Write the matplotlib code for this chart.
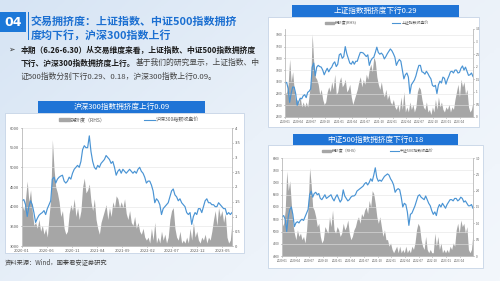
import numpy as np
import pandas as pd
import matplotlib
matplotlib.use("Agg")
import matplotlib.pyplot as plt
import matplotlib.dates as mdates
from matplotlib.patches import Rectangle, Patch
from matplotlib.lines import Line2D
from matplotlib.colors import LinearSegmentedColormap

plt.rcParams["font.family"] = ["Noto Sans CJK SC", "DejaVu Sans"]

# --------------------
# Data (3 readings per month, 2020-01 .. 2023-06)
# --------------------
hs300_close = [
    4150, 4180, 4050, 3750, 4000, 4150, 4050, 3850, 3600, 3700, 3780, 3820,
    3850, 3900, 3800, 3950, 4050, 4150, 4700, 4750, 4600, 4700, 4750, 4780,
    4800, 4650, 4600, 4650, 4750, 4700, 4850, 4950, 5000, 5050, 5000, 5150,
    5450, 5550, 5500, 5500, 5800, 5400, 5150, 5000, 4950, 5050, 5000, 5100,
    5150, 5200, 5300, 5250, 5200, 5100, 5150, 5000, 4800, 4900, 4950, 4850,
    4950, 4900, 4850, 4900, 4950, 4900, 4850, 4900, 4850, 4950, 5000, 4900,
    4850, 4750, 4600, 4650, 4650, 4550, 4400, 4100, 4200, 4150, 4050, 3800,
    3950, 4000, 4050, 4100, 4250, 4400, 4450, 4300, 4250, 4150, 4200, 4100,
    4050, 4000, 3850, 3800, 3850, 3550, 3750, 3850, 3800, 3950, 3950, 3850,
    4000, 4150, 4200, 4100, 4100, 4050, 4050, 4000, 4000, 4100, 4050, 4000,
    3950, 3950, 3800, 3850, 3800, 3850,
]
hs300_crowd = [
    1.4, 1.2, 1.6, 2.2, 1.5, 1.9, 1.2, 0.7, 0.8, 0.6, 0.9, 0.5,
    0.7, 0.4, 0.6, 0.3, 1.0, 1.6, 3.6, 2.6, 2.0, 1.8, 1.5, 1.0,
    1.2, 0.6, 0.4, 0.5, 1.1, 1.4, 1.2, 1.6, 1.0, 1.3, 0.9, 1.2,
    2.0, 2.3, 1.8, 1.9, 2.1, 1.5, 1.2, 1.6, 0.9, 0.6, 0.4, 0.8,
    1.0, 1.2, 1.4, 0.9, 1.3, 1.0, 1.5, 1.3, 1.7, 1.6, 1.3, 1.5,
    1.3, 1.6, 1.1, 0.9, 1.2, 0.8, 0.7, 1.0, 0.6, 0.8, 0.5, 0.4,
    0.6, 0.3, 0.2, 0.3, 0.1, 0.6, 0.2, 0.8, 0.1, 0.3, 0.1, 0.5,
    0.2, 0.4, 0.1, 0.3, 0.9, 1.2, 1.3, 0.6, 0.3, 0.2, 0.5, 0.1,
    0.2, 0.1, 0.3, 0.1, 0.6, 0.2, 0.8, 0.3, 0.5, 0.2, 0.1, 0.3,
    0.2, 0.4, 0.1, 0.3, 0.2, 0.5, 0.9, 1.2, 0.7, 1.3, 1.0, 1.2,
    0.8, 1.1, 0.3, 0.1, 0.2, 0.8,
]
sse_close = [
    3080, 3090, 2980, 2750, 2900, 3010, 3010, 2900, 2700, 2760, 2820, 2810,
    2860, 2880, 2830, 2920, 2940, 2980, 3350, 3420, 3200, 3350, 3380, 3360,
    3350, 3300, 3220, 3280, 3330, 3270, 3320, 3350, 3410, 3440, 3360, 3400,
    3560, 3580, 3500, 3530, 3700, 3580, 3500, 3420, 3400, 3450, 3400, 3450,
    3450, 3530, 3600, 3600, 3590, 3560, 3530, 3560, 3380, 3460, 3500, 3520,
    3600, 3690, 3600, 3570, 3590, 3560, 3490, 3530, 3580, 3620, 3660, 3630,
    3580, 3520, 3380, 3440, 3480, 3450, 3300, 3150, 3220, 3250, 3180, 2900,
    3050, 3090, 3130, 3200, 3300, 3380, 3380, 3270, 3260, 3230, 3280, 3240,
    3190, 3150, 3040, 3020, 3040, 2900, 3050, 3110, 3080, 3180, 3160, 3060,
    3140, 3200, 3270, 3280, 3250, 3300, 3300, 3250, 3260, 3330, 3370, 3300,
    3350, 3280, 3210, 3220, 3250, 3190,
]
sse_crowd = [
    0.9, 1.0, 1.3, 2.3, 1.4, 1.8, 1.1, 0.6, 0.7, 0.5, 0.8, 0.4,
    0.6, 0.4, 0.6, 0.4, 0.9, 1.4, 3.3, 2.2, 1.6, 1.5, 1.3, 0.9,
    1.1, 0.7, 0.5, 0.6, 1.0, 1.2, 1.0, 1.4, 1.1, 1.7, 0.9, 1.0,
    1.4, 1.6, 1.2, 1.3, 1.5, 1.0, 1.1, 1.3, 0.8, 0.5, 0.7, 0.9,
    1.1, 1.4, 1.6, 1.2, 1.5, 1.3, 1.7, 1.5, 1.9, 2.1, 1.8, 2.4,
    2.2, 1.6, 1.3, 1.1, 1.4, 1.0, 0.8, 1.1, 0.7, 0.9, 0.6, 0.5,
    0.7, 0.4, 0.3, 0.5, 0.2, 0.8, 0.3, 1.0, 0.2, 0.4, 0.2, 0.6,
    0.3, 0.5, 0.2, 0.4, 1.0, 1.2, 1.1, 0.7, 0.4, 0.3, 0.6, 0.2,
    0.3, 0.1, 0.4, 0.2, 0.7, 0.3, 0.8, 0.4, 0.6, 0.3, 0.2, 0.4,
    0.3, 0.5, 0.2, 0.4, 0.3, 0.7, 1.0, 1.3, 0.8, 1.5, 1.2, 1.4,
    0.9, 1.1, 0.4, 0.2, 0.3, 0.6,
]
zz500_close = [
    5600, 5650, 5500, 5000, 5600, 5900, 6000, 5700, 5200, 5350, 5400, 5350,
    5450, 5500, 5450, 5600, 5750, 5900, 6500, 6650, 6400, 6550, 6600, 6500,
    6550, 6350, 6300, 6400, 6500, 6350, 6400, 6450, 6500, 6350, 6250, 6400,
    6500, 6350, 6200, 6300, 6700, 6450, 6350, 6250, 6300, 6400, 6450, 6450,
    6500, 6650, 6700, 6750, 6800, 6850, 6950, 7000, 6900, 7000, 7150, 7050,
    7300, 7600, 7200, 7050, 7100, 7050, 7150, 7250, 7300, 7350, 7300, 7150,
    7050, 6900, 6600, 6700, 6750, 6700, 6400, 6000, 6150, 6100, 5800, 5250,
    5700, 5750, 5900, 6050, 6250, 6450, 6500, 6400, 6350, 6300, 6450, 6300,
    6150, 6050, 5850, 5700, 5800, 5650, 5950, 6100, 6000, 6150, 6050, 5950,
    6100, 6200, 6300, 6300, 6250, 6350, 6350, 6250, 6300, 6400, 6350, 6200,
    6250, 6150, 6050, 6050, 6100, 5950,
]
zz500_crowd = [
    0.9, 1.0, 1.4, 2.6, 2.0, 2.3, 1.6, 1.0, 0.7, 0.5, 0.8, 0.6,
    0.7, 0.5, 0.6, 0.4, 0.8, 1.5, 2.7, 2.2, 1.5, 1.4, 1.2, 0.9,
    1.0, 0.6, 0.4, 0.5, 0.9, 0.8, 0.7, 1.2, 0.9, 1.4, 0.8, 0.7,
    0.9, 0.8, 0.6, 0.7, 1.0, 0.8, 0.9, 1.1, 0.7, 0.5, 0.6, 0.8,
    0.9, 1.1, 1.2, 1.0, 1.3, 1.2, 1.4, 1.5, 1.3, 1.7, 1.5, 2.0,
    1.9, 1.6, 1.2, 1.0, 1.2, 0.9, 0.6, 0.8, 0.5, 0.5, 0.3, 0.4,
    0.2, 0.1, 0.2, 0.3, 0.1, 0.3, 0.1, 0.2, 0.1, 0.3, 0.1, 0.2,
    0.1, 0.3, 0.2, 0.4, 0.8, 1.0, 0.9, 0.5, 0.3, 0.2, 0.6, 0.2,
    0.1, 0.2, 0.1, 0.1, 0.7, 0.3, 0.6, 0.2, 0.4, 0.1, 0.2, 0.1,
    0.2, 0.1, 0.3, 0.2, 0.4, 0.3, 0.8, 1.0, 0.7, 1.1, 0.9, 1.0,
    0.7, 0.9, 0.2, 0.1, 0.2, 0.7,
]
dates = pd.date_range("2020-01-02", "2023-06-30", periods=len(hs300_close))

W, H = 500, 281
BAR_BLUE = "#1f74d6"
TITLE_BLUE = "#1b6fd1"
LINE_BLUE = "#4a94d4"
FILL_GRAY = "#a6a6a6"
TICK_COLOR = "#595959"


def rect(x0, y0, x1, y1):
    # pixel box (top-left origin) -> figure fraction
    return [x0 / W, 1 - y1 / H, (x1 - x0) / W, (y1 - y0) / H]


fig = plt.figure(figsize=(5, 2.81), dpi=100)

# background gradient
bg = fig.add_axes([0, 0, 1, 1], zorder=-5)
cmap = LinearSegmentedColormap.from_list("bg", ["#d6e4f4", "#eaf1f9", "#f3f7fc"])
gx, gy = np.meshgrid(np.linspace(0, 1, 200), np.linspace(0, 1, 120))
bg.imshow(0.6 * gx + 0.4 * gy, cmap=cmap, aspect="auto", extent=[0, 1, 0, 1])
bg.set_axis_off()


def add_box(x0, y0, x1, y1, color, ec="none", lw=0):
    r = rect(x0, y0, x1, y1)
    fig.add_artist(Rectangle((r[0], r[1]), r[2], r[3], transform=fig.transFigure,
                             facecolor=color, edgecolor=ec, linewidth=lw, zorder=-1))


def draw_chart(plot_px, panel_px, bar_px, title, close, crowd, ylim_l, yticks_l,
               ylim_r, yticks_r, ytl_r, xticks, fs, title_fs, leg_xy, leg_labels, leg_fs, leg_gap):
    add_box(*panel_px, "white", ec="#c6d4e6", lw=0.6)
    add_box(*bar_px, BAR_BLUE)
    fig.text((bar_px[0] + bar_px[2]) / 2 / W, 1 - (bar_px[1] + bar_px[3]) / 2 / H, title,
             color="white", fontsize=title_fs, ha="center", va="center")

    ax_r = fig.add_axes(rect(*plot_px), zorder=1)
    ax_l = ax_r.twinx()
    ax_l.set_zorder(2)
    ax_l.patch.set_visible(False)
    # twinx puts the shared ticks on the right, swap sides
    ax_l.yaxis.tick_left()
    ax_r.yaxis.tick_right()

    ax_r.fill_between(dates, crowd, 0, color=FILL_GRAY, lw=0)
    ax_l.plot(dates, close, color=LINE_BLUE, lw=0.85)

    ax_l.set_ylim(*ylim_l)
    ax_l.set_yticks(yticks_l)
    ax_r.set_ylim(*ylim_r)
    ax_r.set_yticks(yticks_r)
    ax_r.set_yticklabels(ytl_r)
    ax_r.set_xlim(pd.Timestamp("2020-01-01"), pd.Timestamp("2023-06-30"))
    ax_r.set_xticks(xticks)
    ax_r.xaxis.set_major_formatter(mdates.DateFormatter("%Y-%m"))
    ax_l.grid(axis="y", color="#e3e3e3", lw=0.4)

    for a in (ax_l, ax_r):
        a.tick_params(labelsize=fs, colors=TICK_COLOR, length=1, width=0.4, pad=1)
        for s in a.spines.values():
            s.set_color("#bfbfbf")
            s.set_linewidth(0.5)
        a.spines["top"].set_visible(False)

    handles = [Patch(color=FILL_GRAY), Line2D([], [], color=LINE_BLUE, lw=0.8)]
    fig.legend(handles, leg_labels, loc="center",
               bbox_to_anchor=(leg_xy[0] / W, 1 - leg_xy[1] / H), ncol=2, frameon=False,
               fontsize=leg_fs, columnspacing=leg_gap, handlelength=2.2, handleheight=0.5,
               handletextpad=0.3, labelcolor=TICK_COLOR)


# 上证指数
draw_chart((285, 29, 473, 117), (268, 17, 479, 127), (292, 5, 459, 17),
           "上证指数拥挤度下行0.29", sse_close, sse_crowd,
           (2500, 4000), list(range(2500, 4000, 200)),
           (0, 3.5), [0, 0.5, 1, 1.5, 2, 2.5, 3, 3.5], ["0", "0.5", "1", "1.5", "2", "2.5", "3", "3.5"],
           pd.date_range("2020-01-01", "2023-04-01", freq="QS"), 2.2, 5.5,
           (377, 23), ["拥挤度(RHS)", "上证指数收盘价"], 2.8, 9)

# 沪深300
draw_chart((22, 128, 232, 246), (5, 113, 244, 253), (38, 101, 205, 113),
           "沪深300指数拥挤度上行0.09", hs300_close, hs300_crowd,
           (3000, 6000), list(range(3000, 6001, 500)),
           (0, 4), [0, 0.5, 1, 1.5, 2, 2.5, 3, 3.5, 4], ["0", "0.5", "1", "1.5", "2", "2.5", "3", "3.5", "4"],
           pd.date_range("2020-01-01", periods=9, freq="5MS"), 3.0, 5.5,
           (129, 120), ["拥挤度（RHS）", "沪深300指数收盘价"], 3.6, 7.5)

# 中证500
draw_chart((282, 158, 473, 256), (268, 145, 483, 268), (293, 134, 458, 145),
           "中证500指数拥挤度下行0.18", zz500_close, zz500_crowd,
           (4000, 8000), list(range(4000, 8001, 500)),
           (0, 3), [0, 0.5, 1, 1.5, 2, 2.5, 3], ["0", "0.5", "1.0", "1.5", "2.0", "2.5", "3.0"],
           pd.date_range("2020-01-01", "2023-04-01", freq="QS"), 2.2, 5.5,
           (378, 151), ["拥挤度（RHS）", "中证500指数收盘价"], 2.8, 8)

# --------------------
# Slide header and text
# --------------------
add_box(0, 12, 26, 32, "#1c78d8")
fig.text(13 / W, 1 - 22 / H, "04", color="white", fontsize=9, fontweight="bold",
         ha="center", va="center", family=["DejaVu Sans"])
add_box(27.5, 12, 29, 40, "#1c78d8")
fig.text(31 / W, 1 - 22 / H, "交易拥挤度：上证指数、中证500指数拥挤", color=TITLE_BLUE,
         fontsize=7.9, fontweight="bold", ha="left", va="center")
fig.text(31 / W, 1 - 35 / H, "度均下行，沪深300指数上行", color=TITLE_BLUE,
         fontsize=7.9, fontweight="bold", ha="left", va="center")

body_fs = 5.6
fig.text(8 / W, 1 - 50 / H, "➢", color="#333333", fontsize=body_fs, ha="left", va="center")
fig.text(21 / W, 1 - 50 / H, "本期（6.26-6.30）从交易维度来看，上证指数、中证500指数拥挤度",
         color="#1a1a1a", fontsize=body_fs, fontweight="bold", ha="left", va="center")
t_bold = fig.text(21 / W, 1 - 63 / H, "下行、沪深300指数拥挤度上行。",
                  color="#1a1a1a", fontsize=body_fs, fontweight="bold", ha="left", va="center")
fig.canvas.draw()
x_end = t_bold.get_window_extent(fig.canvas.get_renderer()).x1 / fig.bbox.width
fig.text(x_end, 1 - 63 / H, "基于我们的研究显示，上证指数、中",
         color="#444444", fontsize=body_fs, ha="left", va="center")
fig.text(21 / W, 1 - 77 / H, "证500指数分别下行0.29、0.18，沪深300指数上行0.09。",
         color="#444444", fontsize=body_fs, ha="left", va="center")

fig.text(5 / W, 1 - 262 / H, "资料来源：Wind，国泰君安证券研究", color="#404040",
         fontsize=4.5, ha="left", va="center")

fig.savefig("out.png", dpi=100)
